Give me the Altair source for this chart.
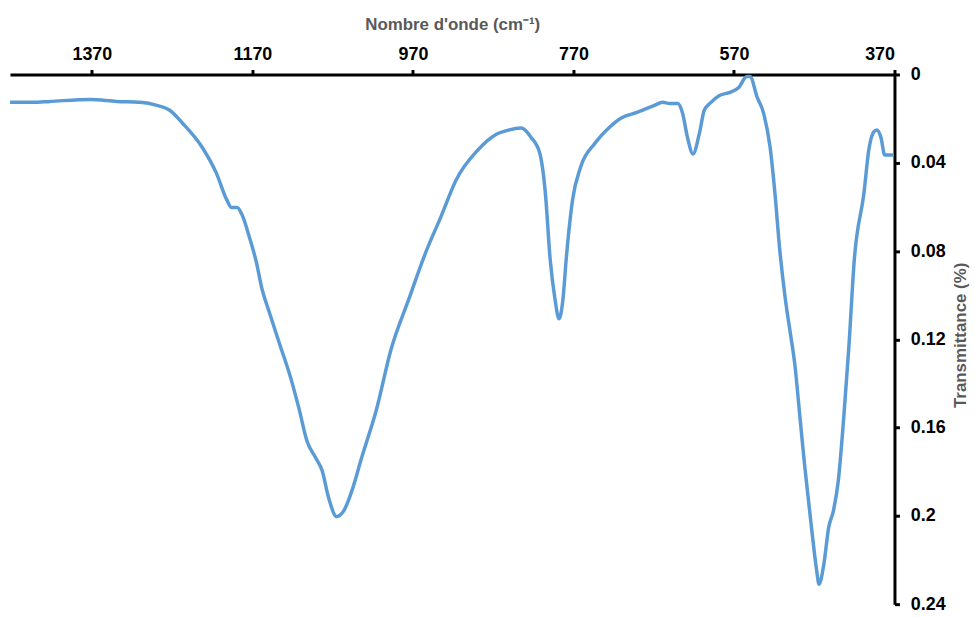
import altair as alt
import pandas as pd

wavenumber = [1472, 1443, 1422, 1372, 1339, 1310, 1289, 1273, 1257, 1232,
              1215, 1202, 1196, 1189, 1183, 1174, 1165, 1158, 1149, 1137,
              1122, 1112, 1102, 1091, 1083, 1075, 1065, 1056, 1046, 1034,
              1016, 997, 975, 954, 935, 916, 889, 868, 851, 835,
              823, 812, 805, 799, 793, 788, 783, 779, 771, 761,
              743, 725, 711, 690, 669, 659, 650, 640, 634, 628,
              621, 613, 607, 600, 588, 575, 564, 554, 550, 541,
              533, 525, 519, 513, 506, 500, 494, 488, 482, 473,
              467, 464, 458, 452, 446, 440, 433, 427, 420, 408,
              402, 396, 392, 387, 382, 371]
transmittance = [0.0126, 0.0126, 0.0122, 0.0113, 0.0122, 0.0126, 0.0140, 0.0162, 0.0221, 0.0333,
                 0.0446, 0.0567, 0.0603, 0.0603, 0.0635, 0.0734, 0.0851, 0.0972, 0.1076, 0.1211,
                 0.1378, 0.1513, 0.1661, 0.1738, 0.1796, 0.1918, 0.2003, 0.1976, 0.1886, 0.1738,
                 0.1526, 0.1243, 0.1017, 0.0806, 0.0644, 0.0477, 0.0342, 0.0275, 0.0252, 0.0243,
                 0.0284, 0.0356, 0.0536, 0.0837, 0.1017, 0.1107, 0.1017, 0.0837, 0.0567, 0.0419,
                 0.0311, 0.0239, 0.0198, 0.0171, 0.0140, 0.0126, 0.0131, 0.0131, 0.0176, 0.0284,
                 0.0360, 0.0266, 0.0162, 0.0131, 0.0095, 0.0081, 0.0059, 0.0009, 0.0009, 0.0104,
                 0.0176, 0.0329, 0.0536, 0.0792, 0.1017, 0.1166, 0.1319, 0.1544, 0.1769, 0.2066,
                 0.2246, 0.2310, 0.2219, 0.2053, 0.1976, 0.1841, 0.1544, 0.1243, 0.0837, 0.0536,
                 0.0342, 0.0261, 0.0252, 0.0284, 0.0365, 0.0365]

x_ticks = [1370, 1170, 970, 770, 570, 370]
y_ticks = [0, 0.04, 0.08, 0.12, 0.16, 0.2, 0.24]

df = pd.DataFrame({"wn": wavenumber, "t": transmittance})

FONT = "Liberation Sans"

chart = alt.Chart(df).mark_line(
    color="#5B9BD5", strokeWidth=3.5, interpolate="monotone"
).encode(
    x=alt.X("wn:Q",
            scale=alt.Scale(domain=[370, 1472], reverse=True, nice=False, zero=False),
            axis=alt.Axis(orient="top", values=x_ticks, format="d",
                          title="Nombre d'onde (cm⁻¹)",
                          titleFont=FONT, titleFontSize=17, titleFontWeight="bold",
                          titleColor="#595959", titlePadding=12,
                          labelFont=FONT, labelFontSize=18, labelFontWeight="bold",
                          labelColor="black", labelPadding=6,
                          domainColor="black", domainWidth=3,
                          tickColor="black", tickWidth=3, tickSize=5,
                          grid=False)),
    y=alt.Y("t:Q",
            scale=alt.Scale(domain=[0, 0.24], reverse=True, nice=False, zero=False),
            axis=alt.Axis(orient="right", values=y_ticks, format=".2~f",
                          title="Transmittance (%)", titleAngle=270,
                          titleX=66, titleY=262, titleAlign="center",
                          titleBaseline="middle",
                          titleFont=FONT, titleFontSize=17, titleFontWeight="bold",
                          titleColor="#595959",
                          labelFont=FONT, labelFontSize=18, labelFontWeight="bold",
                          labelColor="black", labelPadding=11,
                          domainColor="black", domainWidth=3,
                          tickColor="black", tickWidth=3, tickSize=5,
                          grid=False)),
).properties(
    width=890, height=533,
    padding={"left": 2, "top": 65, "right": 77, "bottom": 8},
    autosize=alt.AutoSizeParams(type="none"),
).configure_view(stroke=None)

chart.save("out.html", embed_options={"renderer": "svg", "actions": False})
